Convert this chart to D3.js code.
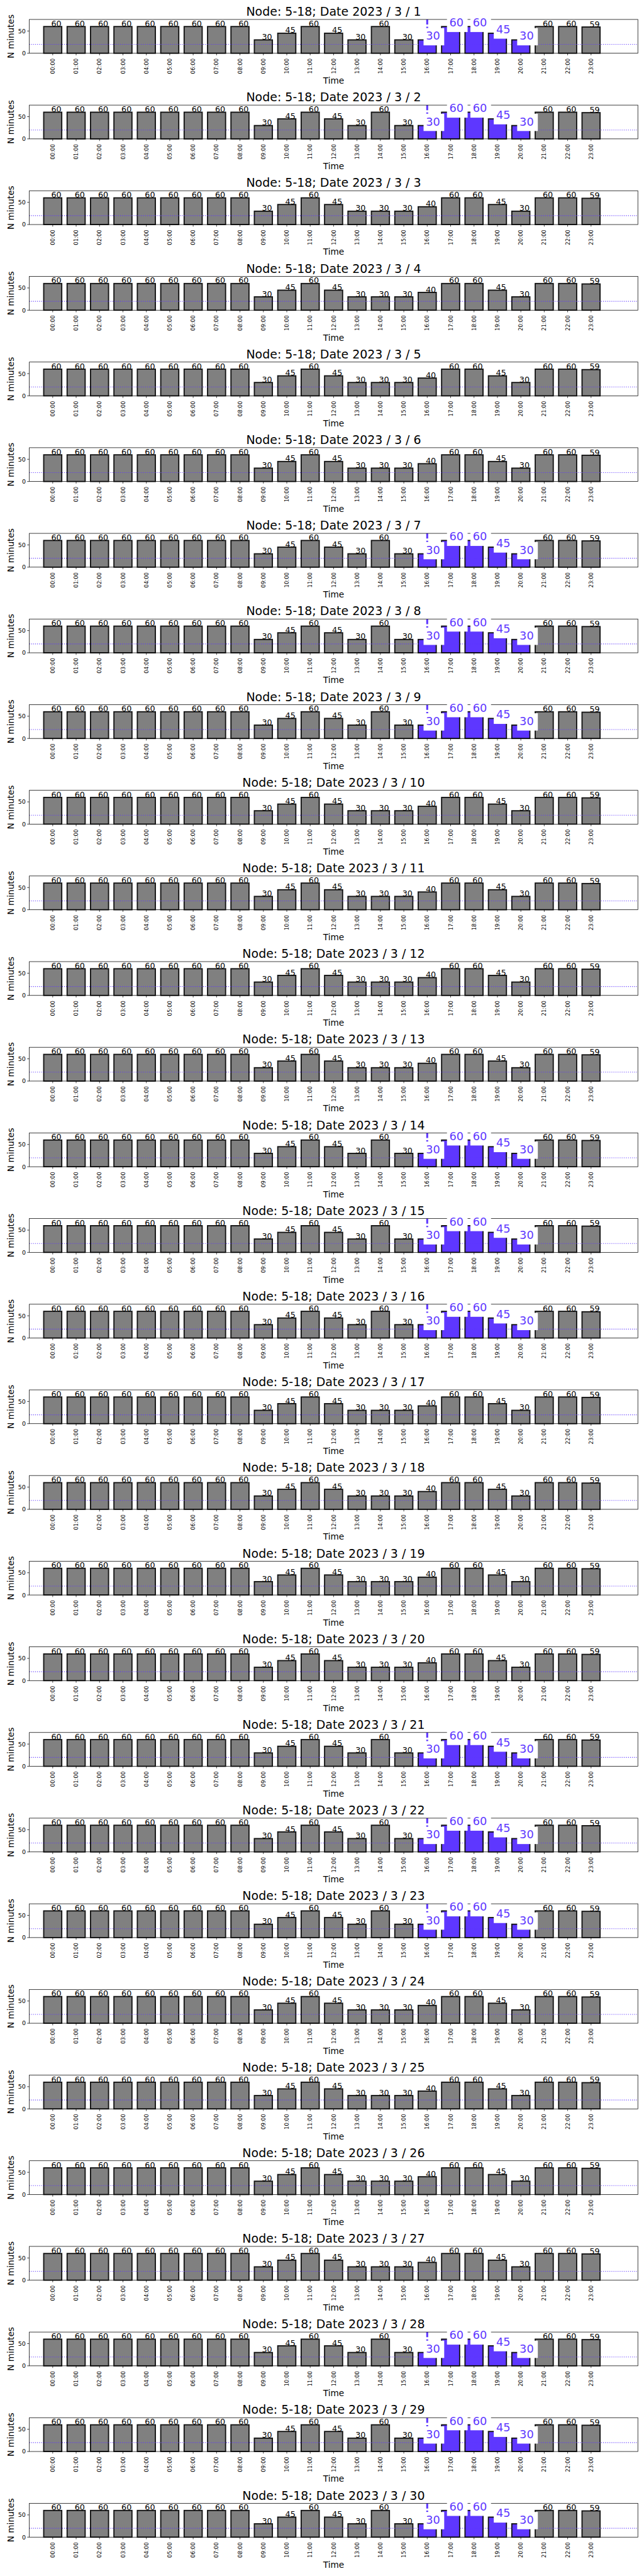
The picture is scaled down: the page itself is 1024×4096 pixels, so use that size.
<!DOCTYPE html>
<html><head><meta charset="utf-8">
<script src="https://cdn.jsdelivr.net/npm/d3@7"></script>
<style>body{margin:0;background:#fff;} svg{display:block;} text{font-family:"DejaVu Sans",sans-serif;}</style>
</head><body>
<script>
// ---- data ----
const hours = ["00:00","01:00","02:00","03:00","04:00","05:00","06:00","07:00","08:00","09:00","10:00","11:00",
               "12:00","13:00","14:00","15:00","16:00","17:00","18:00","19:00","20:00","21:00","22:00","23:00"];
const days = [1,2,3,4,5,6,7,8,9,10,11,12,13,14,15,16,17,18,19,20,21,22,23,24,25,26,27,28,29,30];
const peakDays = [1,2,7,8,9,14,15,16,21,22,23,28,29,30];
const valuesPeakDay = [60,60,60,60,60,60,60,60,60,30,45,60,45,30,60,30,30,60,60,45,30,60,60,59];
const valuesOtherDay = [60,60,60,60,60,60,60,60,60,30,45,60,45,30,30,30,40,60,60,45,30,60,60,59];
const peakHours = ["16:00","17:00","18:00","19:00","20:00"];
const markerHour = "16:00";
const threshold = 20;
const yTicks = [0, 50];
const node = "5-18", year = 2023, month = 3;

// ---- layout (reference pixels, scaled to window) ----
const W = 1500, H = 6000, S = 1024 / 1500;
const ml = 68.3, mr = 1485.7, axTop0 = 45.3, axH = 78.7, pitch = 199.5;
const BLUE = "#5e37ff", GRAY = "#808080";

const svg = d3.select("body").append("svg").attr("width", 1024).attr("height", 4096);
const root = svg.append("g").attr("transform", `scale(${S})`);
root.append("rect").attr("width", W).attr("height", H).attr("fill", "#fff");

const x = d3.scaleLinear().domain([-1, 25]).range([ml, mr]);
const y = d3.scaleLinear().domain([0, 76]).range([axH, 0]);
const bw = x(0.77) - x(0);

root.append("defs").append("clipPath").attr("id", "axclip")
  .append("rect").attr("x", ml).attr("y", 0).attr("width", mr - ml).attr("height", axH);

days.forEach((day, di) => {
  const isPeak = peakDays.includes(day);
  const vals = isPeak ? valuesPeakDay : valuesOtherDay;
  const data = hours.map((h, i) => ({h, i, v: vals[i], blue: isPeak && peakHours.includes(h)}));
  const g = root.append("g").attr("transform", `translate(0,${axTop0 + di * pitch})`);

  // vertical dashed marker (peak days)
  if (isPeak) {
    const mi = hours.indexOf(markerHour);
    g.append("line").attr("clip-path", "url(#axclip)")
      .attr("x1", x(mi)).attr("x2", x(mi)).attr("y1", 0).attr("y2", axH)
      .attr("stroke", BLUE).attr("stroke-width", 4.5).attr("stroke-dasharray", "12 5");
  }

  // bars
  g.selectAll("rect.bar").data(data).join("rect").attr("class", "bar")
    .attr("x", d => x(d.i) - bw / 2).attr("y", d => y(d.v))
    .attr("width", bw).attr("height", d => y(0) - y(d.v))
    .attr("fill", d => d.blue ? BLUE : GRAY)
    .attr("stroke", "#111").attr("stroke-width", 2.7);

  // threshold dotted line
  g.append("line").attr("x1", ml).attr("x2", mr).attr("y1", y(threshold)).attr("y2", y(threshold))
    .attr("stroke", BLUE).attr("stroke-width", 1.6).attr("stroke-dasharray", "1.6 2.9");

  // spines
  g.append("rect").attr("x", ml).attr("y", 0).attr("width", mr - ml).attr("height", axH)
    .attr("fill", "none").attr("stroke", "#000").attr("stroke-width", 1.1);

  // x ticks
  g.selectAll("line.xt").data(data).join("line").attr("class", "xt")
    .attr("x1", d => x(d.i)).attr("x2", d => x(d.i)).attr("y1", axH).attr("y2", axH + 4.9)
    .attr("stroke", "#000").attr("stroke-width", 1.1);
  g.selectAll("text.xtl").data(data).join("text").attr("class", "xtl")
    .attr("transform", d => `translate(${x(d.i)},${axH + 12}) rotate(-90)`)
    .attr("text-anchor", "end").attr("dy", "0.36em").attr("font-size", 12.5).text(d => d.h);

  // y ticks
  g.selectAll("line.yt").data(yTicks).join("line").attr("class", "yt")
    .attr("x1", ml - 4.9).attr("x2", ml).attr("y1", d => y(d)).attr("y2", d => y(d))
    .attr("stroke", "#000").attr("stroke-width", 1.1);
  g.selectAll("text.ytl").data(yTicks).join("text").attr("class", "ytl")
    .attr("x", 60).attr("y", d => y(d)).attr("dy", "0.36em").attr("text-anchor", "end")
    .attr("font-size", 14).text(d => d);

  // black value labels
  g.selectAll("text.vl").data(data.filter(d => !d.blue)).join("text").attr("class", "vl")
    .attr("x", d => x(d.i) - 3.5).attr("y", d => y(d.v) - 0.5)
    .attr("font-size", 18.7).attr("fill", "#000").text(d => d.v);

  // blue value labels with white boxes
  const blues = data.filter(d => d.blue);
  const boxG = g.append("g"), txtG = g.append("g");
  blues.forEach(d => {
    const ax = x(d.i) - 3;
    const t = txtG.append("text").attr("x", ax).attr("y", y(d.v))
      .attr("font-size", 26).attr("fill", BLUE).text(d.v);
    const len = t.node().getComputedTextLength();
    boxG.append("rect").attr("x", ax - 5.5).attr("y", y(d.v) - 27.6)
      .attr("width", len + 15).attr("height", 40.3).attr("fill", "#fff");
  });

  // title & axis labels
  g.append("text").attr("x", (ml + mr) / 2).attr("y", -8.6).attr("text-anchor", "middle")
    .attr("font-size", 27.8).text(`Node: ${node}; Date ${year} / ${month} / ${day}`);
  g.append("text").attr("x", (ml + mr) / 2).attr("y", 149.7).attr("text-anchor", "middle")
    .attr("font-size", 20).text("Time");
  g.append("text").attr("transform", `translate(31.7,${axH / 2}) rotate(-90)`)
    .attr("text-anchor", "middle").attr("font-size", 20).text("N minutes");
});
</script>
</body></html>
